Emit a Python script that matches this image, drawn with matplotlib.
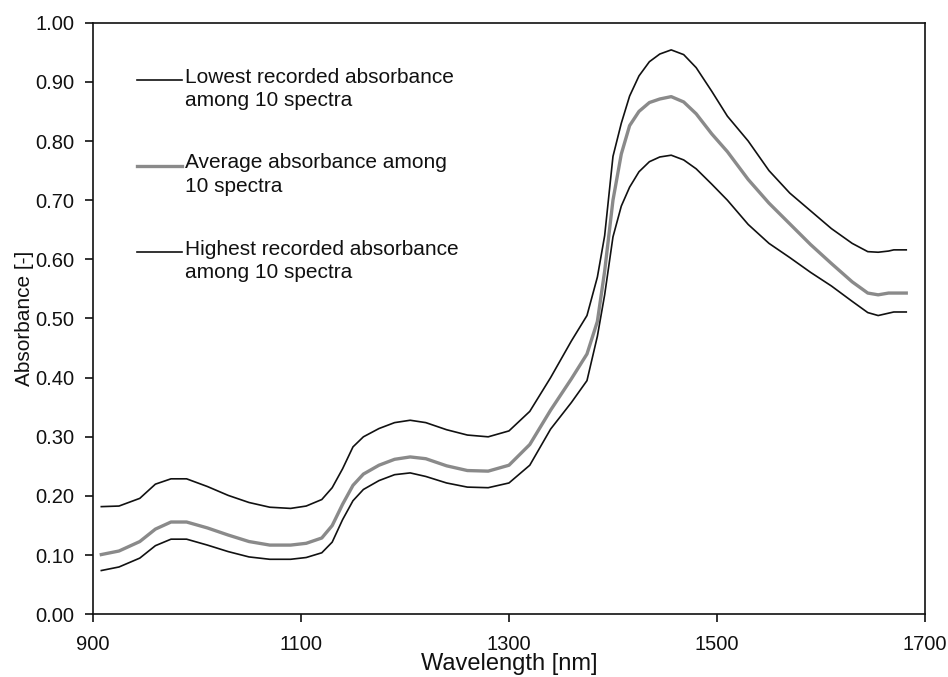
import matplotlib
matplotlib.use('Agg')
import matplotlib.pyplot as plt
from matplotlib.lines import Line2D
from matplotlib.ticker import FormatStrFormatter

plt.rcParams['font.family'] = ['Liberation Sans', 'DejaVu Sans']

# wavelength grid (nm)
wavelength = [908, 925, 945, 960, 975, 990, 1010, 1030, 1050, 1070, 1090, 1105,
              1120, 1130, 1140, 1150, 1160, 1175, 1190, 1205, 1220, 1240, 1260,
              1280, 1300, 1320, 1340, 1360, 1375, 1385, 1392, 1400, 1408, 1416,
              1425, 1435, 1445, 1456, 1468, 1480, 1495, 1510, 1530, 1550, 1570,
              1590, 1610, 1630, 1645, 1655, 1665, 1670, 1682]

highest = [0.182, 0.183, 0.196, 0.220, 0.229, 0.229, 0.216, 0.201, 0.189, 0.181,
           0.179, 0.183, 0.194, 0.214, 0.246, 0.283, 0.300, 0.314, 0.324, 0.328,
           0.324, 0.312, 0.303, 0.300, 0.310, 0.343, 0.400, 0.462, 0.505, 0.570,
           0.640, 0.774, 0.830, 0.876, 0.910, 0.934, 0.947, 0.954, 0.946, 0.924,
           0.884, 0.842, 0.800, 0.750, 0.712, 0.682, 0.652, 0.627, 0.613, 0.612,
           0.614, 0.616, 0.616]

average = [0.101, 0.107, 0.123, 0.144, 0.156, 0.156, 0.146, 0.134, 0.123, 0.117,
           0.117, 0.120, 0.129, 0.150, 0.186, 0.218, 0.237, 0.252, 0.262, 0.266,
           0.263, 0.251, 0.243, 0.242, 0.252, 0.287, 0.345, 0.398, 0.440, 0.495,
           0.580, 0.700, 0.778, 0.826, 0.850, 0.865, 0.871, 0.875, 0.866, 0.846,
           0.812, 0.782, 0.735, 0.695, 0.660, 0.625, 0.593, 0.562, 0.543, 0.540,
           0.543, 0.543, 0.543]

lowest = [0.074, 0.080, 0.095, 0.116, 0.127, 0.127, 0.117, 0.106, 0.097, 0.093,
          0.093, 0.096, 0.104, 0.122, 0.160, 0.192, 0.211, 0.226, 0.236, 0.239,
          0.233, 0.222, 0.215, 0.214, 0.222, 0.252, 0.313, 0.358, 0.395, 0.470,
          0.540, 0.638, 0.690, 0.722, 0.748, 0.765, 0.773, 0.776, 0.768, 0.753,
          0.727, 0.700, 0.659, 0.627, 0.603, 0.578, 0.555, 0.529, 0.510, 0.505,
          0.509, 0.511, 0.511]

labels = ['Lowest recorded absorbance\namong 10 spectra',
          'Average absorbance among\n10 spectra',
          'Highest recorded absorbance\namong 10 spectra']

black = '#111111'
grey = '#8a8a8a'

fig = plt.figure(figsize=(9.48, 6.77), dpi=100)
ax = fig.add_axes([0.0981, 0.0926, 0.8776, 0.8739])

ax.plot(wavelength, highest, color=black, lw=1.2)
ax.plot(wavelength, average, color=grey, lw=2.4)
ax.plot(wavelength, lowest, color=black, lw=1.2)

ax.set_xlim(900, 1700)
ax.set_ylim(0, 1.0)
ax.set_xticks([900, 1100, 1300, 1500, 1700])
ax.set_yticks([i / 10 for i in range(11)])
ax.yaxis.set_major_formatter(FormatStrFormatter('%.2f'))
ax.tick_params(direction='out', length=6, width=1.2, labelsize=14.5, colors=black)
ax.tick_params(axis='x', pad=9)
ax.tick_params(axis='y', pad=7.5)
for s in ax.spines.values():
    s.set_linewidth(1.2)
    s.set_color(black)

ax.set_xlabel('Wavelength [nm]', fontsize=17, labelpad=-1, color=black)
ax.set_ylabel('Absorbance [-]', fontsize=15, labelpad=1, color=black)

# legend drawn by hand so the handle sits on the first text line
handle_y = [0.903, 0.758, 0.612]
styles = [(black, 1.2), (grey, 2.4), (black, 1.2)]
for yy, lab, (c, lw) in zip(handle_y, labels, styles):
    ax.add_line(Line2D([0.053, 0.107], [yy, yy], transform=ax.transAxes,
                       color=c, lw=lw))
    ax.text(0.111, yy + 0.021, lab, transform=ax.transAxes, fontsize=15,
            va='top', ha='left', color=black, linespacing=1.3)

fig.savefig('out.png', dpi=100)
